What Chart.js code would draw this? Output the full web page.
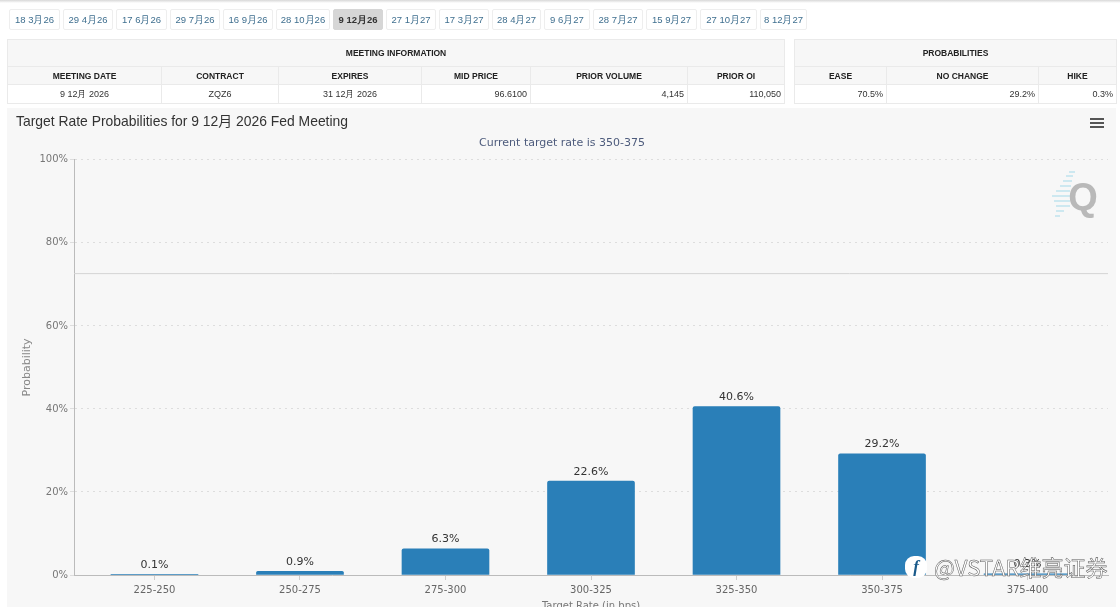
<!DOCTYPE html>
<html>
<head>
<meta charset="utf-8">
<script src="https://cdn.jsdelivr.net/npm/chart.js@4/dist/chart.umd.min.js"></script>
<style>
html, body { margin: 0; padding: 0; width: 1120px; height: 607px; overflow: hidden; background: #fff; font-family: "Liberation Sans", sans-serif; }
#shadow { position: absolute; left: 0; top: 0; width: 1120px; height: 3px; background: linear-gradient(#d8d8d8, #fff); }
#tabs { position: absolute; left: 9px; top: 9px; height: 21px; filter: blur(0.35px); }
#tabs span { position: absolute; top: 0; height: 19px; line-height: 19px; border: 1px solid #eee; border-radius: 2px; text-align: center; font-size: 9.5px; color: #3f6f8f; box-sizing: content-box; }
#tabs span.active { background: #d6d6d6; border-color: #d6d6d6; color: #333; font-weight: bold; }
table { position: absolute; top: 39px; border-collapse: collapse; table-layout: fixed; font-size: 8.5px; color: #222; filter: blur(0.35px); }
th, td { border: 1px solid #eaeaea; padding: 0 3px; box-sizing: border-box; }
th { background: #f7f7f7; font-weight: bold; text-align: center; }
tr.head1 th { height: 27px; }
tr.head2 th { height: 18px; }
td { height: 19px; font-size: 9px; text-align: right; color: #333; }
td.c { text-align: center; }
#panel { position: absolute; left: 7px; top: 108px; width: 1109px; height: 499px; background: #f7f7f7; }
#wrap { position: absolute; left: 7px; top: 108px; width: 1109px; height: 515px; filter: blur(0.35px); }
#menu { position: absolute; left: 1090px; top: 118px; width: 14px; height: 10px; border-top: 2px solid #555; border-bottom: 2px solid #555; box-sizing: border-box; }
#menu i { display: block; height: 2px; margin-top: 2px; background: #555; }
#logo { position: absolute; left: 1050px; top: 164px; width: 50px; height: 62px; }
#mark { position: absolute; left: 905px; top: 551px; height: 30px; white-space: nowrap; }
#mark b { position: absolute; left: 0; top: 5px; width: 22px; height: 22px; border-radius: 9px; background: #fff; color: #1a5a8a; font: italic bold 17px/22px "Liberation Serif", serif; text-align: center; }
#mark span { position: absolute; left: 29px; top: 0; font: 22px/30px "Noto Sans CJK SC", sans-serif; color: #fff; -webkit-text-stroke: 0.5px #555; }
</style>
</head>
<body>
<div id="shadow"></div>
<div id="tabs"></div>
<table id="info" style="left:7px;width:777px"></table>
<table id="probs" style="left:794px;width:322px"></table>
<div id="panel"></div>
<div id="wrap"><canvas id="myChart" width="1109" height="515"></canvas></div>
<div id="menu"><i></i></div>
<svg id="logo" viewBox="0 0 50 62">
  <g stroke="#bfe3ee" stroke-width="1.5">
    <line x1="19" y1="8" x2="25" y2="8"/><line x1="16" y1="12" x2="23" y2="12"/><line x1="13" y1="17" x2="22" y2="17"/>
    <line x1="10" y1="22" x2="21" y2="22"/><line x1="6" y1="27" x2="20" y2="27"/><line x1="2" y1="32" x2="20" y2="32"/>
    <line x1="4" y1="37" x2="20" y2="37"/><line x1="6" y1="42" x2="20" y2="42"/><line x1="6" y1="47" x2="14" y2="47"/><line x1="5" y1="52" x2="10" y2="52"/>
  </g>
  <text x="33" y="46" text-anchor="middle" font-family="Liberation Sans" font-weight="bold" font-size="38" fill="#b9b9b9">Q</text>
</svg>
<div id="mark"><b>f</b><span>@VSTAR维亮证券</span></div>

<script>
var tabLabels = ["18 3月26", "29 4月26", "17 6月26", "29 7月26", "16 9月26", "28 10月26", "9 12月26", "27 1月27", "17 3月27", "28 4月27", "9 6月27", "28 7月27", "15 9月27", "27 10月27", "8 12月27"];
var tabEdges = [0, 54, 107, 161, 214, 267, 324, 377, 430, 483, 535, 584, 637, 691, 751, 801];
var infoHeads = ["MEETING DATE", "CONTRACT", "EXPIRES", "MID PRICE", "PRIOR VOLUME", "PRIOR OI"];
var infoValues = ["9 12月 2026", "ZQZ6", "31 12月 2026", "96.6100", "4,145", "110,050"];
var infoWidths = [154, 117, 143, 109, 157, 97];
var probHeads = ["EASE", "NO CHANGE", "HIKE"];
var probValues = ["70.5%", "29.2%", "0.3%"];
var probWidths = [92, 152, 78];

var categories = ["225-250", "250-275", "275-300", "300-325", "325-350", "350-375", "375-400"];
var probabilities = [0.1, 0.9, 6.3, 22.6, 40.6, 29.2, 0.3];
var yTicks = [0, 20, 40, 60, 80, 100];
var refLevel = 72.6;

var tabs = document.getElementById("tabs");
tabLabels.forEach(function (label, i) {
    var s = document.createElement("span");
    s.textContent = label;
    s.style.left = tabEdges[i] + "px";
    s.style.width = (tabEdges[i + 1] - tabEdges[i] - 5) + "px";
    if (i == 6) s.className = "active";
    tabs.appendChild(s);
});

function fillTable(id, title, heads, values, widths, centered) {
    var html = "<colgroup>" + widths.map(function (w) { return '<col style="width:' + w + 'px">'; }).join("") + "</colgroup>";
    html += '<tr class="head1"><th colspan="' + heads.length + '">' + title + "</th></tr>";
    html += '<tr class="head2">' + heads.map(function (h) { return "<th>" + h + "</th>"; }).join("") + "</tr>";
    html += "<tr>" + values.map(function (v, i) { return '<td class="' + (centered.indexOf(i) >= 0 ? "c" : "") + '">' + v + "</td>"; }).join("") + "</tr>";
    document.getElementById(id).innerHTML = html;
}
fillTable("info", "MEETING INFORMATION", infoHeads, infoValues, infoWidths, [0, 1, 2]);
fillTable("probs", "PROBABILITIES", probHeads, probValues, probWidths, []);

// value labels above the bars
var barLabels = {
    id: "barLabels",
    afterDatasetsDraw: function (chart) {
        var c = chart.ctx;
        c.save();
        c.font = '11px "DejaVu Sans"';
        c.fillStyle = "#333";
        c.textAlign = "center";
        c.textBaseline = "bottom";
        chart.getDatasetMeta(1).data.forEach(function (el, i) {
            c.fillText(probabilities[i].toFixed(1) + "%", el.x, el.y - 4);
        });
        c.restore();
    }
};

var ctx = document.getElementById("myChart").getContext("2d");
new Chart(ctx, {
    plugins: [barLabels],
    data: {
        datasets: [
            {
                type: "line",
                data: [{ x: -0.553, y: refLevel }, { x: 6.553, y: refLevel }],
                borderColor: "#d4d4d4",
                borderWidth: 1,
                pointRadius: 0
            },
            {
                type: "bar",
                data: categories.map(function (c, i) { return { x: i, y: probabilities[i] }; }),
                backgroundColor: "#2a7fb8",
                barThickness: 87,
                borderRadius: { topLeft: 2, topRight: 2 },
                borderSkipped: "bottom"
            }
        ]
    },
    options: {
        responsive: false,
        animation: false,
        layout: { padding: { left: 9, right: 8, top: 6, bottom: 11 } },
        plugins: {
            legend: { display: false },
            tooltip: { enabled: false },
            title: {
                display: true,
                text: "Target Rate Probabilities for 9 12月 2026 Fed Meeting",
                align: "start",
                color: "#333",
                font: { family: '"Liberation Sans", "Noto Sans CJK SC"', size: 13.9, weight: "normal" },
                padding: { top: 0, bottom: 6 }
            },
            subtitle: {
                display: true,
                text: "Current target rate is 350-375",
                color: "#4d5b7c",
                font: { family: '"DejaVu Sans"', size: 11, weight: "normal" },
                padding: { top: 0, bottom: 10 }
            }
        },
        scales: {
            x: {
                type: "linear",
                offset: false,
                min: -0.553,
                max: 6.553,
                afterBuildTicks: function (axis) {
                    axis.ticks = categories.map(function (c, i) { return { value: i }; });
                },
                grid: { offset: false, drawOnChartArea: false, drawTicks: true, tickLength: 5, color: "#ccc" },
                border: { color: "#bbb" },
                ticks: {
                    autoSkip: false,
                    maxRotation: 0,
                    padding: 4,
                    color: "#666",
                    font: { family: '"DejaVu Sans"', size: 10 },
                    callback: function (value) { return categories[value]; }
                },
                title: {
                    display: true,
                    text: "Target Rate (in bps)",
                    color: "#777",
                    font: { family: '"DejaVu Sans"', size: 10 },
                    padding: { top: 0, bottom: 0 }
                }
            },
            y: {
                min: 0,
                max: 100,
                afterBuildTicks: function (axis) {
                    axis.ticks = yTicks.map(function (v) { return { value: v }; });
                },
                afterFit: function (axis) { axis.width = 58; },
                grid: { color: "#ddd", tickLength: 4, drawTicks: true },
                border: { color: "#bbb", dash: [2, 4] },
                ticks: {
                    padding: 2,
                    color: "#777",
                    font: { family: '"DejaVu Sans"', size: 10 },
                    callback: function (value) { return value + "%"; }
                },
                title: {
                    display: true,
                    text: "Probability",
                    color: "#888",
                    font: { family: '"DejaVu Sans"', size: 11 },
                    padding: { top: 5, bottom: 0 }
                }
            }
        }
    }
});
</script>
</body>
</html>
